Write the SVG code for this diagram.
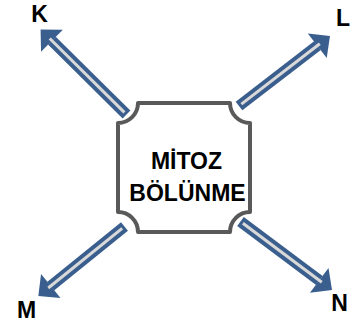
<svg xmlns="http://www.w3.org/2000/svg" width="350" height="329" viewBox="0 0 350 329">
  <style>
    .shaft { stroke: #3A5F8E; stroke-width: 11; stroke-linecap: butt; fill: none; }
    .head { fill: #3A5F8E; }
    .core { stroke: #D9D9D9; stroke-width: 3; stroke-linecap: butt; fill: none; }
    .plaque { fill: #FFFFFF; stroke: #595959; stroke-width: 4; stroke-linejoin: round; }
    .title { font-family: "Liberation Sans", Arial, sans-serif; font-weight: bold; font-size: 23px; fill: #000000; text-anchor: middle; }
    .lbl { font-family: "Liberation Sans", Arial, sans-serif; font-weight: bold; font-size: 23px; fill: #000000; text-anchor: middle; }
  </style>

  <!-- connectors: block arrows pointing out of the central plaque -->
  <g id="connectors">
    <g id="arrow-k" transform="translate(126.5,114.5) rotate(-135.3)">
      <line class="shaft" x1="0" y1="0" x2="105" y2="0"/>
      <polygon class="head" points="104.9,-15.5 120.9,0 104.9,15.5"/>
      <line class="core" x1="3" y1="0" x2="108" y2="0"/>
    </g>
    <g id="arrow-l" transform="translate(239,106) rotate(-37.6)">
      <line class="shaft" x1="0" y1="0" x2="99" y2="0"/>
      <polygon class="head" points="98.8,-15.5 114.8,0 98.8,15.5"/>
      <line class="core" x1="3" y1="0" x2="102" y2="0"/>
    </g>
    <g id="arrow-m" transform="translate(124.5,226.5) rotate(141.1)">
      <line class="shaft" x1="0" y1="0" x2="95" y2="0"/>
      <polygon class="head" points="94.7,-15.5 110.7,0 94.7,15.5"/>
      <line class="core" x1="3" y1="0" x2="98" y2="0"/>
    </g>
    <g id="arrow-n" transform="translate(240.5,221.5) rotate(36.8)">
      <line class="shaft" x1="0" y1="0" x2="98.5" y2="0"/>
      <polygon class="head" points="98.3,-15.5 114.3,0 98.3,15.5"/>
      <line class="core" x1="3" y1="0" x2="101.5" y2="0"/>
    </g>
  </g>

  <!-- central plaque with concave corners -->
  <g id="mitoz">
    <path class="plaque" d="M138,103 H230 A20,20 0 0 0 250,123 V212 A20,20 0 0 0 230,232 H138 A20,20 0 0 0 118,212 V123 A20,20 0 0 0 138,103 Z"/>
    <text class="title" x="186.5" y="169">MİTOZ</text>
    <text class="title" x="187.5" y="201">BÖLÜNME</text>
  </g>

  <g id="label-k"><text class="lbl" x="39.5" y="21.5">K</text></g>
  <g id="label-l"><text class="lbl" x="343" y="26">L</text></g>
  <g id="label-m"><text class="lbl" x="26.5" y="318">M</text></g>
  <g id="label-n"><text class="lbl" x="339.5" y="311">N</text></g>
</svg>
